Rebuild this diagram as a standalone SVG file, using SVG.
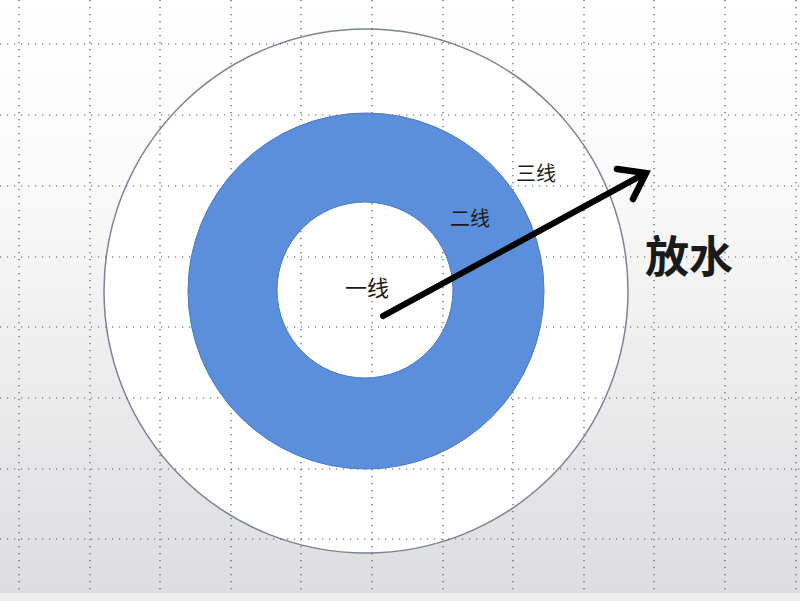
<svg xmlns="http://www.w3.org/2000/svg" width="800" height="601" viewBox="0 0 800 601">
<defs>
<linearGradient id="bg" x1="0" y1="0" x2="0" y2="1">
<stop offset="0" stop-color="#ffffff"/>
<stop offset="0.3" stop-color="#fafafa"/>
<stop offset="1" stop-color="#dddde0"/>
</linearGradient>
<style>
.grid line{stroke:#555;stroke-width:1.2;stroke-dasharray:1.2 5.8}
.lbl{font-family:"Noto Sans CJK SC","Noto Sans",sans-serif;fill:#1a1a1a}
</style>
</defs>
<rect x="0" y="0" width="800" height="595" fill="url(#bg)"/>
<rect x="0" y="593" width="800" height="8" fill="#eeeeef"/>
<g id="outer">
<circle cx="366" cy="291" r="262" fill="#ffffff" stroke="#7c8494" stroke-width="1.5"/>
</g>
<g class="grid">
<line x1="19" y1="0" x2="19" y2="590"/>
<line x1="90" y1="0" x2="90" y2="590"/>
<line x1="160" y1="0" x2="160" y2="590"/>
<line x1="231" y1="0" x2="231" y2="590"/>
<line x1="301" y1="0" x2="301" y2="590"/>
<line x1="372" y1="0" x2="372" y2="590"/>
<line x1="443" y1="0" x2="443" y2="590"/>
<line x1="513" y1="0" x2="513" y2="590"/>
<line x1="584" y1="0" x2="584" y2="590"/>
<line x1="654" y1="0" x2="654" y2="590"/>
<line x1="725" y1="0" x2="725" y2="590"/>
<line x1="796" y1="0" x2="796" y2="590"/>
<line x1="0" y1="44" x2="800" y2="44"/>
<line x1="0" y1="115" x2="800" y2="115"/>
<line x1="0" y1="186" x2="800" y2="186"/>
<line x1="0" y1="257" x2="800" y2="257"/>
<line x1="0" y1="327" x2="800" y2="327"/>
<line x1="0" y1="398" x2="800" y2="398"/>
<line x1="0" y1="469" x2="800" y2="469"/>
<line x1="0" y1="539" x2="800" y2="539"/>
</g>
<g id="ring">
<path d="M188,291 A178,178 0 1,0 544,291 A178,178 0 1,0 188,291 Z M277,290 A88,88 0 1,1 453,290 A88,88 0 1,1 277,290 Z" fill="#5b8fdc" fill-rule="evenodd" stroke="#4a78c0" stroke-width="1"/>
</g>
<g id="connectors">
<line x1="383" y1="316" x2="644" y2="174" stroke="#000" stroke-width="6" stroke-linecap="round"/>
<polyline points="617,169 646,173 633,199" fill="none" stroke="#000" stroke-width="6.5" stroke-linecap="round" stroke-linejoin="miter"/>
</g>
<g id="labels">
<text class="lbl" x="536" y="181" font-size="20" text-anchor="middle">三线</text>
<text class="lbl" x="470" y="226" font-size="20" text-anchor="middle" fill="#101830">二线</text>
<text class="lbl" x="367" y="296" font-size="22" text-anchor="middle">一线</text>
<text class="lbl" x="689" y="273" font-size="44" font-weight="bold" text-anchor="middle" fill="#000">放水</text>
</g>
</svg>
